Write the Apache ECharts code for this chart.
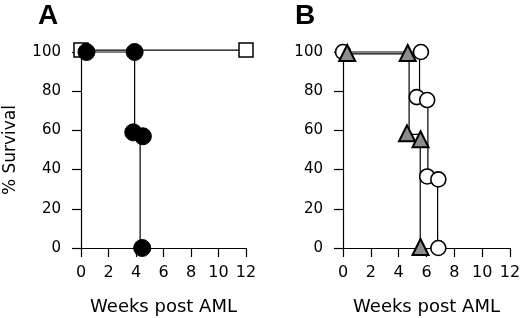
<!DOCTYPE html>
<html>
<head>
<meta charset="utf-8">
<script src="https://cdn.jsdelivr.net/npm/echarts@6/dist/echarts.min.js"></script>
<style>html,body{margin:0;padding:0;background:#fff}#c{width:520px;height:318px}</style>
</head>
<body>
<div id="c"></div>
<script>
// ---- data ----
var xTicks = [0, 2, 4, 6, 8, 10, 12];
var yTicks = [0, 20, 40, 60, 80, 100];
// Panel A
var aSquareLine = [[0, 101], [12, 101]];
var aSquarePts = [[0, 101], [12, 101]];
var aCircleLine = [[0, 100], [3.9, 100], [3.9, 59], [4.3, 59], [4.3, 0]];
var aCirclePts = [[0.4, 100], [3.9, 100], [3.8, 59], [4.5, 57], [4.45, 0]];
// Panel B
var bCircleLine = [[0, 100], [5.5, 100], [5.5, 77], [6.1, 77], [6.1, 37], [6.8, 37], [6.8, 0]];
var bCirclePts = [[0, 100], [5.6, 100], [5.3, 77], [6.05, 75.5], [6.05, 36.5], [6.85, 35], [6.85, 0]];
var bTriLine = [[0, 99], [4.75, 99], [4.75, 58], [5.55, 58], [5.55, 0]];
var bTriPts = [[0.3, 99.5], [4.65, 99.5], [4.6, 58.5], [5.57, 55.5], [5.57, 0.5]];

var FONT = 'DejaVu Sans';
function xAx(gi) {
  return {
    gridIndex: gi, type: 'value', min: 0, max: 12, interval: 2,
    name: 'Weeks post AML', nameLocation: 'middle', nameGap: 50,
    nameTextStyle: {fontFamily: FONT, fontSize: 18, color: '#000'},
    axisLine: {show: true, onZero: false, lineStyle: {color: '#000', width: 1.2}},
    axisTick: {show: true, inside: false, length: 9, lineStyle: {color: '#000', width: 1.2}},
    axisLabel: {fontFamily: FONT, fontSize: 16, color: '#000', margin: 17},
    splitLine: {show: false}
  };
}
function yAx(gi, named) {
  return {
    gridIndex: gi, type: 'value', min: 0, max: 100, interval: 20,
    name: named ? '% Survival' : '', nameLocation: 'middle', nameGap: 62, nameRotate: 90,
    nameTextStyle: {fontFamily: FONT, fontSize: 17, color: '#000'},
    axisLine: {show: true, onZero: false, lineStyle: {color: '#000', width: 1.2}},
    axisTick: {show: true, inside: false, length: 9, lineStyle: {color: '#000', width: 1.2}},
    axisLabel: {fontFamily: FONT, fontSize: 15, color: '#000', margin: 20},
    splitLine: {show: false}
  };
}
function line(data, xi) {
  return {type: 'line', xAxisIndex: xi, yAxisIndex: xi, data: data, symbol: 'none', clip: false,
    lineStyle: {color: '#000', width: 1.2}, silent: true, animation: false, z: 2};
}
function pts(data, xi, symbol, size, fill, bw, z) {
  return {type: 'scatter', xAxisIndex: xi, yAxisIndex: xi, data: data, symbol: symbol, symbolSize: size, clip: false,
    itemStyle: {color: fill, borderColor: '#000', borderWidth: bw, opacity: 1}, silent: true, animation: false, z: z};
}
var chart = echarts.init(document.getElementById('c'), null, {renderer: 'canvas'});
chart.setOption({
  backgroundColor: '#fff',
  animation: false,
  grid: [
    {left: 81, right: 274, top: 52, bottom: 70, containLabel: false, outerBoundsMode: 'none'},
    {left: 343, right: 10, top: 52, bottom: 70, containLabel: false, outerBoundsMode: 'none'}
  ],
  xAxis: [xAx(0), xAx(1)],
  yAxis: [yAx(0, true), yAx(1, false)],
  graphic: [
    {type: 'text', left: 38, top: 2, style: {text: 'A', font: 'bold 28px "Liberation Sans"', fill: '#000'}},
    {type: 'text', left: 295, top: 2, style: {text: 'B', font: 'bold 28px "Liberation Sans"', fill: '#000'}}
  ],
  series: [
    line(aSquareLine, 0),
    line(aCircleLine, 0),
    pts(aSquarePts, 0, 'rect', 14, '#fff', 1.5, 3),
    pts(aCirclePts, 0, 'circle', 17, '#000', 1, 4),
    line(bCircleLine, 1),
    line(bTriLine, 1),
    pts(bCirclePts, 1, 'circle', 15, '#fff', 1.6, 3),
    pts(bTriPts, 1, 'triangle', 16, '#8c8c8c', 2, 4)
  ]
});
</script>
</body>
</html>
